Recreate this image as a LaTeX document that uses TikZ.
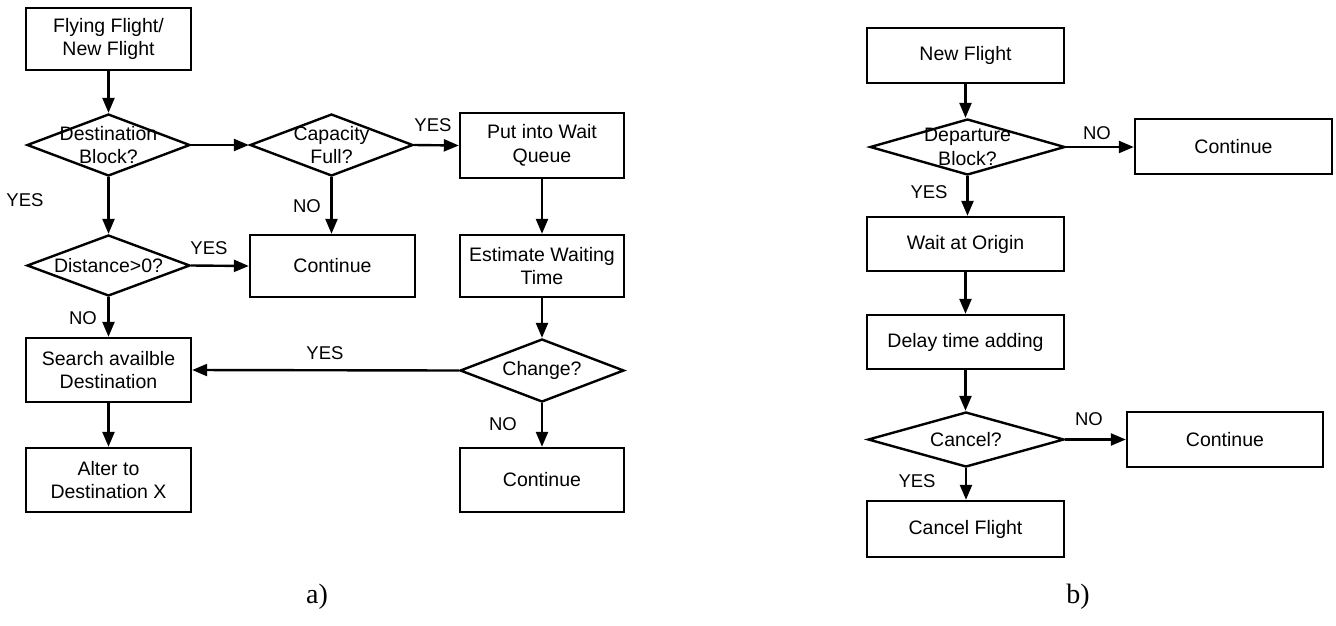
\documentclass[tikz,border=0pt]{standalone}
\usepackage{fontspec}
\setmainfont{Liberation Serif}
\setsansfont{Liberation Sans}
\usetikzlibrary{shapes.geometric,arrows.meta}

\tikzset{
  procbox/.style={draw, line width=2.4pt, rectangle, inner sep=0pt, align=center,
    font=\sffamily\fontsize{19.5}{23.5}\selectfont},
  decision/.style={draw, line width=2.4pt, diamond, inner sep=0pt,
    label={[align=center, font=\sffamily\fontsize{19.5}{23.5}\selectfont]center:#1}},
  flow/.style={line width=2.4pt, -{Triangle[length=15pt,width=12pt]}},
  answer/.style={font=\sffamily\fontsize{18.5}{22}\selectfont, inner sep=0pt},
  caption/.style={font=\fontsize{28}{32}\selectfont, inner sep=0pt}
}

\begin{document}
\begin{tikzpicture}[x=1pt, y=-1pt]
\useasboundingbox (0,0) rectangle (1336,625);

% ---------- a) flying / new flight ----------
\node[procbox, minimum width=165pt, minimum height=62pt] (b1) at (108.5,39) {Flying Flight/\\New Flight};
\node[decision={Destination\\Block?}, minimum width=163pt, minimum height=62pt] (d1) at (108.5,145) {};
\node[decision={Capacity\\Full?}, minimum width=163pt, minimum height=62pt] (d2) at (331.5,145) {};
\node[procbox, minimum width=164pt, minimum height=65pt] (q1) at (542,145.5) {Put into Wait\\Queue};
\node[decision={Distance>0?}, minimum width=163pt, minimum height=61pt] (d3) at (108.5,265.5) {};
\node[procbox, minimum width=165pt, minimum height=62pt] (c1) at (332.5,266) {Continue};
\node[procbox, minimum width=164pt, minimum height=62pt] (e1) at (542,266) {Estimate Waiting\\Time};
\node[decision={Change?}, minimum width=164pt, minimum height=63pt] (ch) at (542,370.5) {};
\node[procbox, minimum width=165pt, minimum height=64pt] (s1) at (108.5,370) {Search availble\\Destination};
\node[procbox, minimum width=165pt, minimum height=64pt] (a1) at (108.5,480) {Alter to\\Destination X};
\node[procbox, minimum width=164pt, minimum height=64pt] (c2) at (542,480) {Continue};

\draw[flow] (b1.south) -- (d1.north);
\draw[flow] (d1.east) -- (d2.west);
\draw[flow] (d2.east) -- (q1.west);
\draw[flow] (d1.south) -- (d3.north);
\draw[flow] (d2.south) -- (d2.south |- c1.north);
\draw[flow] (d3.east) -- (c1.west);
\draw[flow] (q1.south) -- (e1.north);
\draw[flow] (e1.south) -- (ch.north);
\draw[flow] (ch.west) -- (s1.east);
\draw[flow] (d3.south) -- (s1.north);
\draw[flow] (s1.south) -- (a1.north);
\draw[flow] (ch.south) -- (c2.north);

\node[answer] (ya1) at (433,125) {YES};
\node[answer] (ya2) at (25,200) {YES};
\node[answer] (na1) at (307,206) {NO};
\node[answer] (ya3) at (209,248) {YES};
\node[answer] (ya4) at (325,353) {YES};
\node[answer] (na2) at (83,318) {NO};
\node[answer] (na3) at (503,424) {NO};

% ---------- b) new flight departure ----------
\node[procbox, minimum width=197pt, minimum height=55pt] (n1) at (965.5,55.5) {New Flight};
\node[decision={Departure\\Block?}, minimum width=195pt, minimum height=56pt] (db) at (967.5,147) {};
\node[procbox, minimum width=197pt, minimum height=55pt] (rc1) at (1233.5,146.5) {Continue};
\node[procbox, minimum width=197pt, minimum height=54pt] (w1) at (965.5,244) {Wait at Origin};
\node[procbox, minimum width=197pt, minimum height=54pt] (dl) at (965.5,342) {Delay time adding};
\node[decision={Cancel?}, minimum width=196pt, minimum height=55pt] (cn) at (966,439.5) {};
\node[procbox, minimum width=196pt, minimum height=55pt] (rc2) at (1225,439.5) {Continue};
\node[procbox, minimum width=197pt, minimum height=56pt] (cf) at (965.5,529) {Cancel Flight};

\draw[flow] (n1.south) -- (n1.south |- db.north);
\draw[flow] (db.east) -- (rc1.west |- db.east);
\draw[flow] (db.south) -- (db.south |- w1.north);
\draw[flow] (w1.south) -- (dl.north);
\draw[flow] (dl.south) -- (dl.south |- cn.north);
\draw[flow] (cn.east) -- (rc2.west);
\draw[flow] (cn.south) -- (cn.south |- cf.north);

\node[answer] (nb1) at (1097,133) {NO};
\node[answer] (yb1) at (929,192) {YES};
\node[answer] (nb2) at (1089,419) {NO};
\node[answer] (yb2) at (917,481) {YES};

% ---------- captions ----------
\node[caption] (capa) at (317,597) {a)};
\node[caption] (capb) at (1078,597) {b)};
\end{tikzpicture}
\end{document}
